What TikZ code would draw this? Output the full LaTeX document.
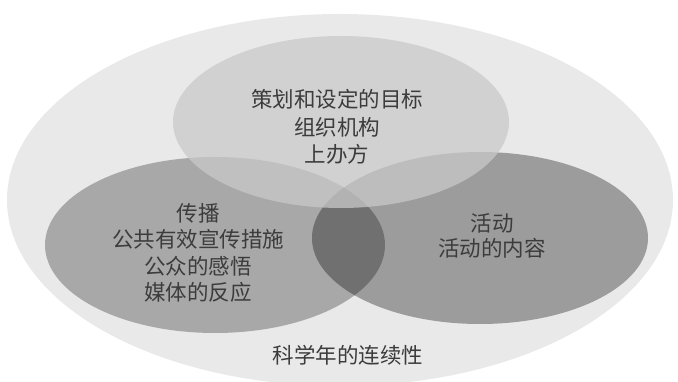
\documentclass[tikz,border=0pt]{standalone}
\usepackage{fontspec}
\newfontfamily\cjk{Noto Sans CJK SC}
\definecolor{outergray}{HTML}{E9E9E9}
\definecolor{topgray}{HTML}{C9C9C9}
\definecolor{leftgray}{HTML}{A8A8A8}
\definecolor{rightgray}{HTML}{9C9C9C}
\definecolor{bothgray}{HTML}{707070}
\definecolor{textgray}{HTML}{3C3C3C}

\begin{document}
\begin{tikzpicture}[x=1pt,y=1pt,
                    label node/.style={align=center,text=textgray,
                      font=\cjk\fontsize{21.5}{27.5}\selectfont}]
  \useasboundingbox (0,0) rectangle (678,382);
  % the sets
  \fill[outergray] (340,182) ellipse [x radius=333pt,y radius=186pt];
  \fill[leftgray]  (215,137) ellipse [x radius=170pt,y radius=88pt];
  \fill[rightgray] (480,144) ellipse [x radius=168pt,y radius=86pt];
  \begin{scope}
    \clip (215,137) ellipse [x radius=170pt,y radius=88pt];
    \fill[bothgray] (480,144) ellipse [x radius=168pt,y radius=86pt];
  \end{scope}
  \fill[topgray,fill opacity=0.75] (341,260) ellipse [x radius=168pt,y radius=86pt];
  % the texts
  \node[label node] (plan) at (337,255) {策划和设定的目标\\组织机构\\上办方};
  \node[label node,font=\cjk\fontsize{21.5}{26.5}\selectfont] (spread) at (198,129)
    {传播\\公共有效宣传措施\\公众的感悟\\媒体的反应};
  \node[label node,font=\cjk\fontsize{21.5}{25}\selectfont] (event) at (492,146.5)
    {活动\\活动的内容};
  \node[label node] (year) at (348,27) {科学年的连续性};
\end{tikzpicture}
\end{document}
